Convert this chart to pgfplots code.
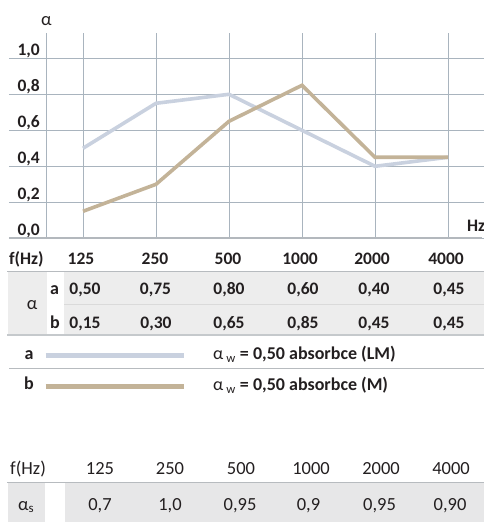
\documentclass[border=0pt]{standalone}
\usepackage{fontspec}
\setmainfont{Carlito}
\usepackage{pgfplots}
\pgfplotsset{compat=1.18}
\definecolor{txt}{HTML}{231F20}
\definecolor{lina}{HTML}{C9D1DF}
\definecolor{linb}{HTML}{C3B398}
\definecolor{gridc}{HTML}{A9B4BE}
\definecolor{axisc}{HTML}{B3B8BD}
\definecolor{band}{HTML}{EDEDED}
\definecolor{band2}{HTML}{E7E7E8}
\definecolor{rulec}{HTML}{B7BBBF}
\definecolor{sepc}{HTML}{DADADA}
\newcommand\fb{\fontsize{17.5}{20}\selectfont\bfseries}
\newcommand\fbl{\fontsize{18}{21}\selectfont\bfseries}
\newcommand\fr{\fontsize{18.5}{21}\selectfont}
\begin{document}
\begin{tikzpicture}
\path[use as bounding box] (0,0) rectangle (484pt,522pt);
\begin{axis}[
  at={(9pt,283.7pt)}, anchor=south west,
  scale only axis, width=475pt, height=205.3pt,
  xmin=-1.0137, xmax=5.4932, ymin=0, ymax=1.1405,
  xtick={-0.5,0,1,2,3,4,5}, xticklabels={},
  ytick={0,0.2,0.4,0.6,0.8,1},
  grid=major, grid style={draw=gridc, line width=1pt},
  axis line style={draw=none},
  major tick length=0pt,
  /pgf/number format/assume math mode=true,
  yticklabel={\pgfmathprintnumber[fixed,fixed zerofill,precision=1,use comma]{\tick}},
  yticklabel style={font=\fb, text=txt, anchor=base east, inner sep=0pt, xshift=31pt, yshift=3pt},
  clip=false,
]
\draw[axisc, line width=2pt] (axis cs:-1.0137,0) -- (axis cs:5.46,0);
\addplot[lina, line width=3.6pt, no markers] coordinates {(0,0.50) (1,0.75) (2,0.80) (3,0.60) (4,0.40) (5,0.45)};
\addplot[linb, line width=3.6pt, no markers] coordinates {(0,0.15) (1,0.30) (2,0.65) (3,0.85) (4,0.45) (5,0.45)};
\end{axis}
\begin{scope}[x=1pt,y=-1pt,shift={(0,522pt)}, every node/.style={text=txt, inner sep=0pt}]
  % labels around plot
  \node[font=\fr] at (46.3,21) {α};
  \node[font=\fb, anchor=west] at (467,226) {Hz};
  % top table
  \fill[band] (8,272) rectangle (484,334.5);
  \fill[white] (46.7,272) rectangle (64.3,334.5);
  \draw[rulec, line width=1.5pt] (7,271.7) -- (484,271.7);
  \draw[sepc, line width=1pt] (64.3,304.3) -- (484,304.3);
  \draw[rulec!80, line width=2pt] (7,334.8) -- (484,334.8);
  \node[font=\fb, anchor=base west] at (9,264.5) {f(Hz)};
  \foreach \x/\t in {81/125,155/250,228/500,300/1000,372/2000,446/4000}
    \node[font=\fb, anchor=base] at (\x,264.5) {\t};
  \node[font=\fr] at (32,305) {α};
  \node[font=\fbl, anchor=base] at (54.5,295) {a};
  \node[font=\fbl, anchor=base] at (55,329) {b};
  \foreach \x/\t in {85/{0,50},155.5/{0,75},229/{0,80},303/{0,60},374/{0,40},449/{0,45}}
    \node[font=\fb, anchor=base] at (\x,295) {\t};
  \foreach \x/\t in {85/{0,15},156/{0,30},229/{0,65},303/{0,85},374/{0,45},449/{0,45}}
    \node[font=\fb, anchor=base] at (\x,329) {\t};
  % legend
  \node[font=\fbl, anchor=base] at (29,360) {a};
  \node[font=\fbl, anchor=base] at (29,390) {b};
  \draw[lina, line width=5.3pt] (45.7,355.3) -- (184.3,355.3);
  \draw[linb, line width=5.3pt] (45.7,386.3) -- (184.3,386.3);
  \draw[rulec, line width=1pt] (9,368.3) -- (484,368.3);
  \node[font=\fbl, anchor=base west] at (213,360) {{\mdseries α\,\textsubscript{w}} = 0,50 absorbce (LM)};
  \node[font=\fbl, anchor=base west] at (213,391) {{\mdseries α\,\textsubscript{w}} = 0,50 absorbce (M)};
  % bottom table
  \fill[band2] (8,483.5) rectangle (484,522);
  \fill[white] (45,483.5) rectangle (65,522);
  \draw[rulec, line width=1.5pt] (7,482.7) -- (484,482.7);
  \node[font=\fr, anchor=base west] at (10,475) {f(Hz)};
  \foreach \x/\t in {100/125,170/250,241/500,311/1000,381/2000,451/4000}
    \node[font=\fr, anchor=base] at (\x,475) {\t};
  \node[font=\fr, anchor=base west] at (18,510) {α\textsubscript{s}};
  \foreach \x/\t in {100/{0,7},170/{1,0},240/{0,95},308.5/{0,9},379.5/{0,95},450/{0,90}}
    \node[font=\fr, anchor=base] at (\x,510) {\t};
\end{scope}
\end{tikzpicture}
\end{document}
